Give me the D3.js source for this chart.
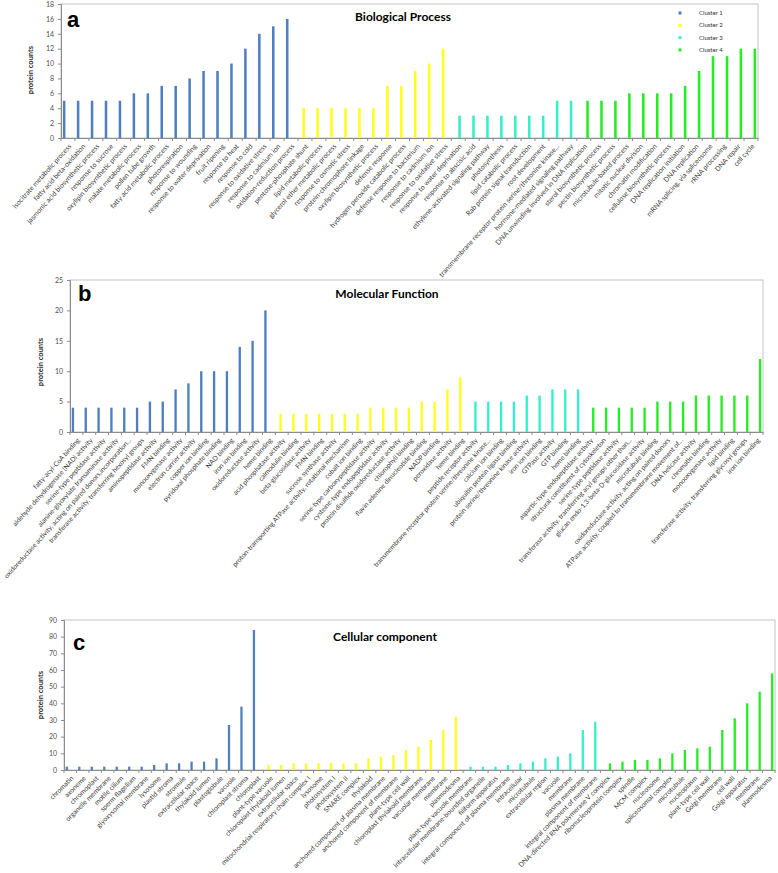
<!DOCTYPE html>
<html>
<head>
<meta charset="utf-8">
<script src="https://cdn.jsdelivr.net/npm/d3@7"></script>
<style>
body { margin: 0; background: #fff; }
svg text { font-family: Lato, "Liberation Sans", sans-serif; }
</style>
</head>
<body>
<svg id="chart" width="778" height="873"></svg>
<script>
const clusters = ['Cluster 1', 'Cluster 2', 'Cluster 3', 'Cluster 4'];

// a - Biological Process
const bpLabels = [
    'isocitrate metabolic process', 'fatty acid beta-oxidation', 'jasmonic acid biosynthetic process', 'response to sucrose',
    'oxylipin biosynthetic process', 'malate metabolic process', 'pollen tube growth', 'fatty acid metabolic process',
    'photorespiration', 'response to wounding', 'response to water deprivation', 'fruit ripening', 'response to heat',
    'response to cold', 'response to oxidative stress', 'response to cadmium ion', 'oxidation-reduction process',
    'pentose-phosphate shunt', 'lipid metabolic process', 'glycerol ether metabolic process', 'response to osmotic stress',
    'protein-chromophore linkage', 'oxylipin biosynthetic process', 'defense response', 'hydrogen peroxide catabolic process',
    'defense response to bacterium', 'response to cadmium ion', 'response to oxidative stress',
    'response to water deprivation', 'response to abscisic acid', 'ethylene-activated signaling pathway', 'photosynthesis',
    'lipid catabolic process', 'Rab protein signal transduction', 'root development',
    'transmembrane receptor protein serine/threonine kinase...', 'hormone-mediated signaling pathway',
    'DNA unwinding involved in DNA replication', 'sterol biosynthetic process', 'pectin biosynthetic process',
    'microtubule-based process', 'mitotic nuclear division', 'chromatin modification', 'cellulose biosynthetic process',
    'DNA replication initiation', 'DNA replication', 'mRNA splicing, via spliceosome', 'rRNA processing', 'DNA repair', 'cell cycle'
];
const bpValues = [5, 5, 5, 5, 5, 6, 6, 7, 7, 8, 9, 9, 10, 12, 14, 15, 16,
    4, 4, 4, 4, 4, 4, 7, 7, 9, 10, 12,
    3, 3, 3, 3, 3, 3, 3, 5, 5,
    5, 5, 5, 6, 6, 6, 6, 7, 9, 11, 11, 12, 12];
const bpSizes = [17, 11, 9, 13];
const bpTicks = [0, 2, 4, 6, 8, 10, 12, 14, 16, 18];

// b - Molecular Function
const mfLabels = [
    'fatty-acyl-CoA binding', 'aldehyde dehydrogenase (NAD) activity', 'serine-type peptidase activity',
    'alanine-glyoxylate transaminase activity', 'oxidoreductase activity, acting on paired donors,incorporation...',
    'transferase activity, transferring hexosyl groups', 'aminopeptidase activity', 'FMN binding', 'monooxygenase activity',
    'electron carrier activity', 'copper ion binding', 'pyridoxal phosphate binding', 'NAD binding', 'iron ion binding',
    'oxidoreductase activity', 'heme binding',
    'acid phosphatase activity', 'calmodulin binding', 'beta-glucosidase activity', 'FMN binding', 'sucrose synthase activity',
    'proton-transporting ATPase activity, rotational mechanism', 'cobalt ion binding', 'serine-type carboxypeptidase activity',
    'cysteine-type endopeptidase activity', 'protein disulfide oxidoreductase activity', 'chlorophyll binding',
    'flavin adenine dinucleotide binding', 'NADP binding', 'peroxidase activity', 'heme binding',
    'peptide receptor activity', 'transmembrane receptor protein serine/threonine kinase...', 'calcium ion binding',
    'ubiquitin protein ligase binding', 'protein serine/threonine kinase activity', 'iron ion binding', 'GTPase activity',
    'GTP binding', 'heme binding',
    'aspartic-type endopeptidase activity', 'structural constituent of cytoskeleton', 'serine-type peptidase activity',
    'transferase activity, transferring acyl groups other than...', 'glucan endo-1,3-beta-D-glucosidase activity',
    'microtubule binding', 'oxidoreductase activity, acting on paired donors',
    'ATPase activity, coupled to transmembrane movement of...', 'DNA helicase activity', 'chromatin binding',
    'monooxygenase activity', 'lipid binding', 'transferase activity, transferring glycosyl groups', 'iron ion binding'
];
const mfValues = [4, 4, 4, 4, 4, 4, 5, 5, 7, 8, 10, 10, 10, 14, 15, 20,
    3, 3, 3, 3, 3, 3, 3, 4, 4, 4, 4, 5, 5, 7, 9,
    5, 5, 5, 5, 6, 6, 7, 7, 7,
    4, 4, 4, 4, 4, 5, 5, 5, 6, 6, 6, 6, 6, 12];
const mfSizes = [16, 15, 9, 14];
const mfTicks = [0, 5, 10, 15, 20, 25];

// c - Cellular component
const ccLabels = [
    'chromatin', 'axoneme', 'chromoplast', 'organelle membrane', 'motile cilium', 'sperm flagellum', 'glyoxysomal membrane',
    'lysosome', 'plastid stroma', 'stromule', 'extracellular space', 'thylakoid lumen', 'plastoglobule', 'vacuole',
    'chloroplast stroma', 'chloroplast',
    'plant-type vacuole', 'chloroplast thylakoid lumen', 'extracellular space', 'mitochondrial respiratory chain complex I',
    'lysosome', 'photosystem I', 'photosystem II', 'SNARE complex', 'thylakoid', 'anchored component of plasma membrane',
    'anchored component of membrane', 'plant-type cell wall', 'chloroplast thylakoid membrane', 'vacuolar membrane',
    'membrane', 'plasmodesma',
    'plant-type vacuole membrane', 'intracellular membrane-bounded organelle', 'filiform apparatus',
    'integral component of plasma membrane', 'intracellular', 'microtubule', 'extracellular region', 'vacuole', 'membrane',
    'plasma membrane', 'integral component of membrane',
    'DNA-directed RNA polymerase V complex', 'ribonucleoprotein complex', 'spindle', 'MCM complex', 'nucleosome',
    'spliceosomal complex', 'microtubule', 'nucleoplasm', 'plant-type cell wall', 'Golgi membrane', 'cell wall',
    'Golgi apparatus', 'membrane', 'plasmodesma'
];
const ccValues = [2, 2, 2, 2, 2, 2, 2, 3, 4, 4, 5, 5, 7, 27, 38, 84,
    3, 3, 4, 4, 4, 4, 4, 4, 7, 8, 9, 12, 14, 18, 24, 32,
    2, 2, 2, 3, 4, 5, 7, 8, 10, 24, 29,
    4, 5, 6, 6, 7, 10, 12, 13, 14, 24, 31, 40, 47, 58];
const ccSizes = [16, 16, 11, 14];
const ccTicks = [0, 10, 20, 30, 40, 50, 60, 70, 80, 90];

const colors = d3.scaleOrdinal().domain(clusters).range(['#4f7fc0', '#ffff1a', '#33efcc', '#22ee22']);
const svg = d3.select('#chart');

function clusterOf(sizes) {
    const out = [];
    sizes.forEach((s, k) => { for (let i = 0; i < s; i++) out.push(clusters[k]); });
    return out;
}

function drawPanel(p) {
    const n = p.labels.length;
    const cl = clusterOf(p.sizes);
    const data = p.labels.map((l, i) => ({ i: i, label: l, value: p.values[i], cluster: cl[i] }));
    const x0 = d3.scaleBand().domain(d3.range(n)).range([p.left, p.right]);
    const x1 = d3.scaleBand().domain(clusters).range([0, x0.bandwidth()]).paddingOuter(0.75);
    const y = d3.scaleLinear().domain([0, d3.max(p.ticks)]).range([p.bottom, p.top]);
    const g = svg.append('g');

    g.append('rect')
        .attr('x', p.left).attr('y', p.top)
        .attr('width', p.right - p.left).attr('height', p.bottom - p.top)
        .attr('fill', 'none').attr('stroke', '#c4c4c4').attr('stroke-width', 1);

    g.selectAll('.bar')
        .data(data)
        .enter()
        .append('rect')
        .attr('class', 'bar')
        .attr('x', d => x0(d.i) + x1(d.cluster))
        .attr('width', x1.bandwidth())
        .attr('y', d => y(d.value))
        .attr('height', d => y(0) - y(d.value))
        .style('fill', d => colors(d.cluster));

    const yAxis = d3.axisLeft(y).tickValues(p.ticks).tickSize(3).tickPadding(4);
    const ya = g.append('g')
        .attr('transform', `translate(${p.left}, 0)`)
        .call(yAxis);
    ya.select('.domain').attr('stroke', '#8c8c8c');
    ya.selectAll('.tick line').attr('stroke', '#8c8c8c');
    ya.selectAll('text').attr('fill', '#505050').style('font-size', '7px');

    const xa = g.append('g')
        .attr('transform', `translate(0, ${p.bottom})`)
        .call(d3.axisBottom(x0).tickSize(0).tickFormat(''));
    xa.select('.domain').attr('stroke', '#8c8c8c');
    g.selectAll('.xtick')
        .data(d3.range(n + 1))
        .enter()
        .append('line')
        .attr('x1', i => i < n ? x0(i) : p.right)
        .attr('x2', i => i < n ? x0(i) : p.right)
        .attr('y1', p.bottom).attr('y2', p.bottom + 3)
        .attr('stroke', '#8c8c8c');

    g.selectAll('.xlabel')
        .data(data)
        .enter()
        .append('text')
        .attr('transform', d => `translate(${x0(d.i) + x0.bandwidth() / 2 + 2}, ${p.bottom + 7}) rotate(${-p.angle})`)
        .attr('text-anchor', 'end')
        .attr('dy', '0.35em')
        .attr('fill', '#3c3c3c')
        .style('font-size', p.labelSize + 'px')
        .text(d => d.label);

    g.append('text')
        .attr('x', p.titleX).attr('y', p.titleY)
        .attr('text-anchor', 'middle')
        .style('font-weight', 'bold').style('font-size', '12px')
        .text(p.title);

    g.append('text')
        .attr('x', p.letterX).attr('y', p.letterY)
        .style('font-family', '"Liberation Sans", Arial, sans-serif')
        .style('font-weight', 'bold').style('font-size', '22px')
        .text(p.letter);

    g.append('text')
        .attr('transform', `translate(${p.yTitleX}, ${p.yTitleY}) rotate(-90)`)
        .attr('text-anchor', 'middle')
        .attr('dy', '0.35em')
        .attr('fill', '#303030')
        .style('font-weight', 'bold').style('font-size', '7.5px')
        .text('protein  counts');
}

drawPanel({ labels: bpLabels, values: bpValues, sizes: bpSizes, ticks: bpTicks,
    left: 61, top: 4, right: 758, bottom: 138, labelSize: 6.9, angle: 48,
    title: 'Biological Process', titleX: 403, titleY: 21, letter: 'a', letterX: 67, letterY: 27,
    yTitleX: 30, yTitleY: 70 });
drawPanel({ labels: mfLabels, values: mfValues, sizes: mfSizes, ticks: mfTicks,
    left: 70, top: 280, right: 763, bottom: 432, labelSize: 6.7, angle: 48,
    title: 'Molecular Function', titleX: 387, titleY: 298, letter: 'b', letterX: 78, letterY: 301,
    yTitleX: 40, yTitleY: 362 });
drawPanel({ labels: ccLabels, values: ccValues, sizes: ccSizes, ticks: ccTicks,
    left: 64, top: 620, right: 775, bottom: 770, labelSize: 6.8, angle: 45,
    title: 'Cellular component', titleX: 385, titleY: 641, letter: 'c', letterX: 73, letterY: 650,
    yTitleX: 40, yTitleY: 695 });

// legend for panel a
const legend = svg.append('g');
legend.selectAll('rect')
    .data(clusters)
    .enter()
    .append('rect')
    .attr('x', 678.5)
    .attr('y', (d, i) => 11.5 + i * 12.3)
    .attr('width', 3).attr('height', 3)
    .style('fill', d => colors(d));
legend.selectAll('text')
    .data(clusters)
    .enter()
    .append('text')
    .attr('x', 699)
    .attr('y', (d, i) => 13 + i * 12.3)
    .attr('dy', '0.35em')
    .attr('fill', '#303030')
    .style('font-size', '6px')
    .text(d => d);
</script>
</body>
</html>
